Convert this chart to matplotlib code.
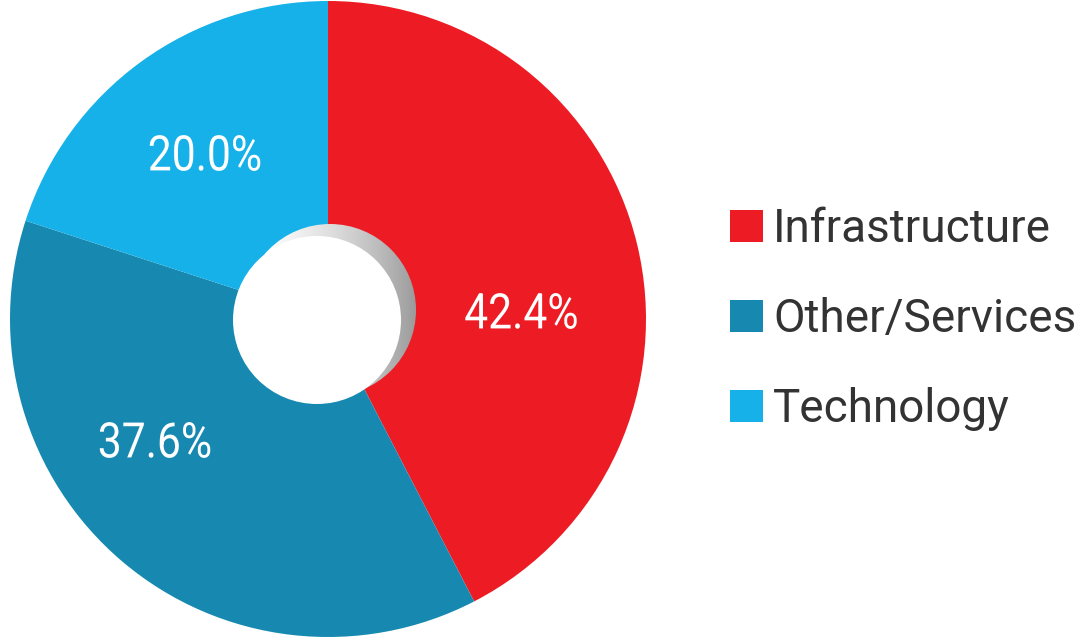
import matplotlib
matplotlib.use("Agg")
import matplotlib.pyplot as plt
import numpy as np
from matplotlib.colors import LinearSegmentedColormap
from matplotlib.font_manager import FontProperties
from matplotlib.patches import Circle, PathPatch, Rectangle
from matplotlib.textpath import TextPath
from matplotlib.transforms import Affine2D

# sector data
categories = ["Infrastructure", "Other/Services", "Technology"]
shares = [42.4, 37.6, 20.0]
colors = ["#ED1C24", "#1789B0", "#16B1E8"]

W, H = 1084, 641
ROBOTO = FontProperties(family="Roboto")


def narrow_text(ax, s, x, y, size, squeeze, color, zorder=6):
    """Draw s centred on (x, y), squeezed horizontally."""
    path = TextPath((0, 0), s, size=size, prop=ROBOTO)
    box = path.get_extents()
    tr = (
        Affine2D()
        .translate(-(box.x0 + box.x1) / 2, -(box.y0 + box.y1) / 2)
        .scale(squeeze, 1.0)
        .translate(x, y)
    )
    ax.add_patch(PathPatch(tr.transform_path(path), facecolor=color,
                           edgecolor="none", zorder=zorder))


fig = plt.figure(figsize=(W / 100, H / 100), dpi=100)
ax = fig.add_axes([0, 0, 1, 1])

cx, cy, radius = 328, 322, 318
ax.pie(
    shares,
    colors=colors,
    startangle=90,
    counterclock=False,
    center=(cx, cy),
    radius=radius,
    wedgeprops=dict(linewidth=0),
    frame=True,
)
ax.set_xlim(0, W)
ax.set_ylim(0, H)
ax.set_aspect("equal")
ax.axis("off")

# hole with a soft grey shadow to the upper right
shadow = Circle((330, 331), 86, facecolor="none", edgecolor="none")
ax.add_patch(shadow)
grad = np.linspace(0, 1, 256)[None, :] ** 1.6
img = ax.imshow(
    grad,
    extent=(244, 416, 245, 417),
    cmap=LinearSegmentedColormap.from_list("sh", ["#ffffff", "#9c9c9c"]),
    vmin=0,
    vmax=1,
    zorder=3,
    aspect="auto",
)
img.set_clip_path(shadow)
ax.add_patch(Circle((317, 321), 84, facecolor="white", edgecolor="none", zorder=4))

# percentage labels
label_pos = [(521, 330), (155, 201), (205, 488)]
for share, (x, y) in zip(shares, label_pos):
    narrow_text(ax, f"{share:.1f}%", x, y, 49, 0.87, "white")

# legend
for i, (name, color) in enumerate(zip(categories, colors)):
    base = 399 - i * 90
    ax.add_patch(Rectangle((730, base), 33, 32, facecolor=color, edgecolor="none"))
    ax.text(773, base, name, color="#333333", fontsize=33, family="Roboto",
            ha="left", va="baseline")

fig.savefig("out.png", dpi=100)
